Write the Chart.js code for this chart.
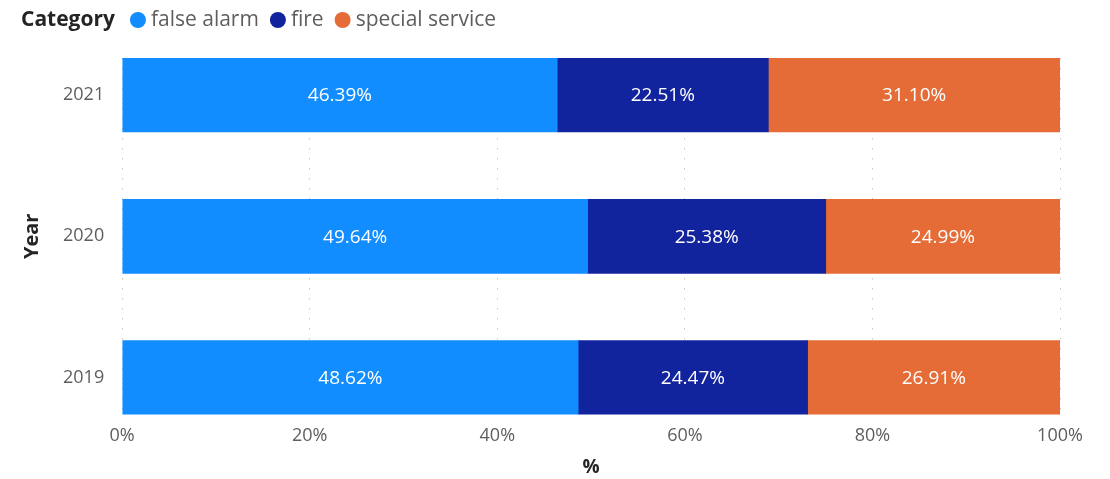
<!DOCTYPE html>
<html>
<head>
<meta charset="utf-8">
<script src="https://cdn.jsdelivr.net/npm/chart.js@4.4.0/dist/chart.umd.min.js"></script>
<style>
    html, body { margin: 0; padding: 0; background: #fff; }
    #wrap { width: 1110px; height: 479px; }
</style>
</head>
<body>
<div id="wrap"><canvas id="canvas-barchart"></canvas></div>
<script>
const years = [2021, 2020, 2019];
const categories = ['false alarm', 'fire', 'special service'];
const falseAlarm = [46.39, 49.64, 48.62];
const fire = [22.51, 25.38, 24.47];
const specialService = [31.10, 24.99, 26.91];
const xTicks = [0, 20, 40, 60, 80, 100];
const colors = ['#118DFF', '#12239E', '#E66C37'];

const FONT = '"Segoe UI", "Open Sans", sans-serif';
Chart.defaults.font.family = FONT;

const canvas = document.getElementById('canvas-barchart');
var ctx = canvas.getContext('2d');

const seriesValues = [falseAlarm, fire, specialService];

// legend drawn in one row: bold title then round markers
const inlineLegend = {
    id: 'inlineLegend',
    afterDraw(chart) {
        const c = chart.ctx;
        const y = 20;
        let x = 21;
        c.save();
        c.textBaseline = 'middle';
        c.font = 'bold 21px ' + FONT;
        c.fillStyle = '#252423';
        c.fillText('Category', x, y);
        x += c.measureText('Category').width + 15;
        c.font = '21px ' + FONT;
        chart.data.datasets.forEach(ds => {
            c.fillStyle = ds.backgroundColor;
            c.beginPath();
            c.arc(x + 8, y, 8, 0, Math.PI * 2);
            c.fill();
            x += 21;
            c.fillStyle = '#605e5c';
            c.fillText(ds.label, x, y);
            x += c.measureText(ds.label).width + 11;
        });
        c.restore();
    }
};

// white percentage labels in the middle of each segment
const barLabels = {
    id: 'barLabels',
    afterDatasetsDraw(chart) {
        const c = chart.ctx;
        c.save();
        c.font = '19px ' + FONT;
        c.fillStyle = '#ffffff';
        c.textAlign = 'center';
        c.textBaseline = 'middle';
        chart.data.datasets.forEach((ds, di) => {
            chart.getDatasetMeta(di).data.forEach((bar, i) => {
                const p = bar.getCenterPoint();
                c.fillText(ds.data[i].x.toFixed(2) + '%', p.x, p.y + 1);
            });
        });
        c.restore();
    }
};

const datasets = categories.map((name, k) => ({
    label: name,
    data: years.map((yr, i) => ({ x: seriesValues[k][i], y: yr })),
    backgroundColor: colors[k],
    borderWidth: 0,
    barThickness: 74
}));

new Chart(ctx, {
    type: 'bar',
    data: { datasets: datasets },
    plugins: [inlineLegend, barLabels],
    options: {
        indexAxis: 'y',
        responsive: true,
        maintainAspectRatio: false,
        animation: false,
        layout: { padding: { top: 58, right: 50, left: 0, bottom: 0 } },
        plugins: {
            legend: { display: false },
            tooltip: { enabled: false }
        },
        scales: {
            x: {
                stacked: true,
                min: 0,
                max: 100,
                afterBuildTicks: s => { s.ticks = xTicks.map(v => ({ value: v })); },
                ticks: {
                    callback: v => v + '%',
                    color: '#605e5c',
                    font: { size: 18 },
                    padding: 10,
                    maxRotation: 0
                },
                grid: { color: '#c8c6c4', lineWidth: 1, drawTicks: false },
                border: { display: false, dash: [1.5, 8.5] },
                title: {
                    display: true,
                    text: '%',
                    color: '#252423',
                    font: { size: 19, weight: 'bold' },
                    padding: { top: 0, bottom: 0 }
                }
            },
            y: {
                type: 'linear',
                offset: false,
                stacked: true,
                min: 2018.738,
                max: 2021.262,
                afterBuildTicks: s => { s.ticks = years.map(v => ({ value: v })); },
                ticks: {
                    callback: v => String(v),
                    color: '#605e5c',
                    font: { size: 18 },
                    padding: 18
                },
                grid: { display: false, drawTicks: false },
                border: { display: false },
                title: {
                    display: true,
                    text: 'Year',
                    color: '#252423',
                    font: { size: 20, weight: 'bold' },
                    padding: { top: 20, bottom: 1 }
                }
            }
        }
    }
});
</script>
</body>
</html>
